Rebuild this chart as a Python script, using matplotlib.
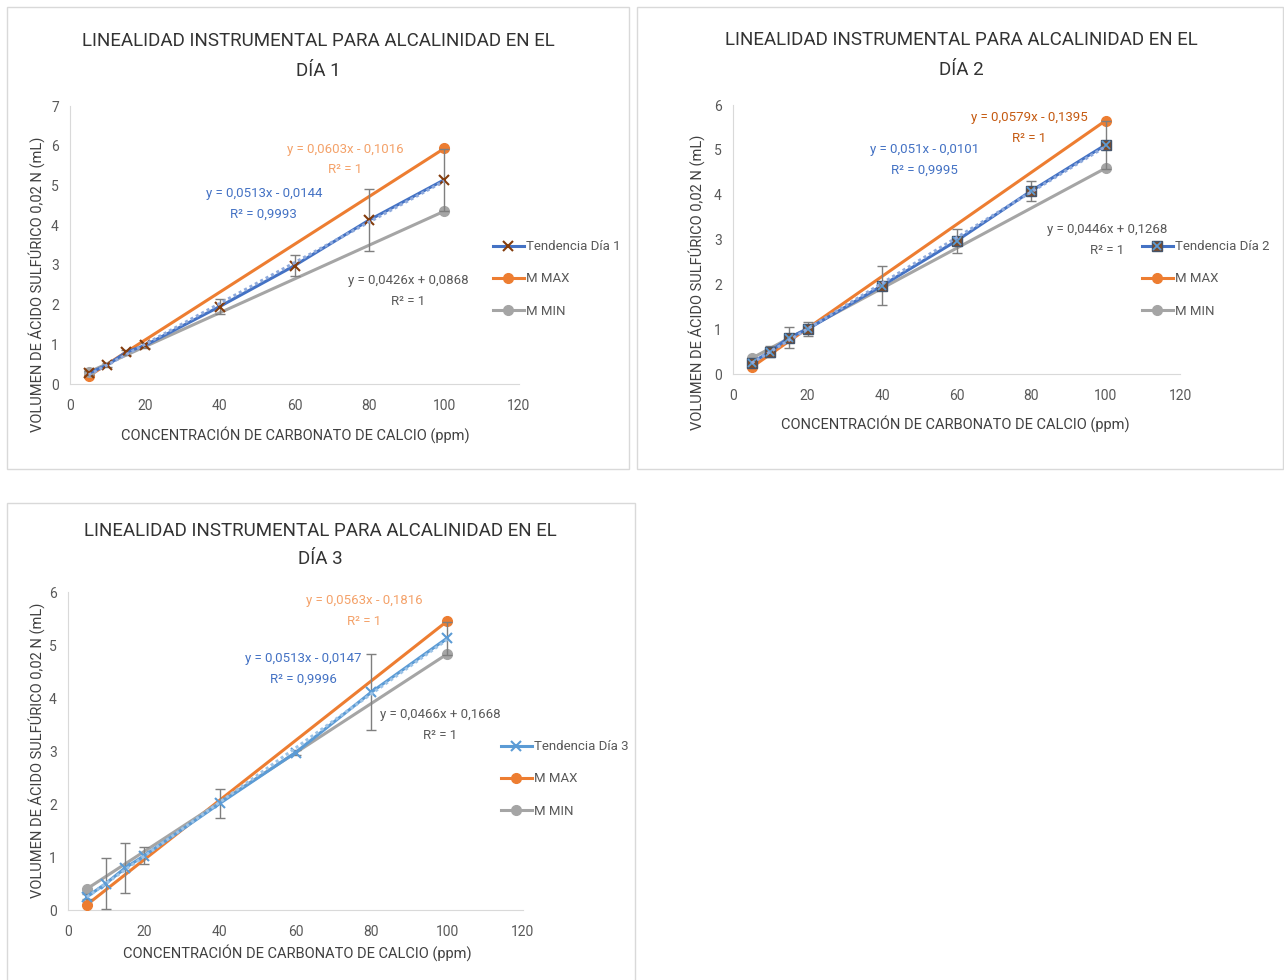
import matplotlib
matplotlib.use("Agg")
import matplotlib.pyplot as plt
import matplotlib.patches as mpatches
from matplotlib.lines import Line2D
import numpy as np

plt.rcParams['font.family'] = ['Roboto', 'DejaVu Sans']

# ── Data ───────
conc = [5, 10, 15, 20, 40, 60, 80, 100]
ends = [5, 100]

dia1_vol = [0.27, 0.48, 0.80, 0.97, 1.95, 2.98, 4.13, 5.14]
dia1_err = [0.05, 0.05, 0.06, 0.07, 0.19, 0.27, 0.78, 0.78]
dia1_max = [0.20, 5.93]
dia1_min = [0.30, 4.35]

dia2_vol = [0.25, 0.50, 0.81, 1.00, 1.97, 2.97, 4.08, 5.11]
dia2_err = [0.05, 0.13, 0.24, 0.16, 0.43, 0.26, 0.22, 0.54]
dia2_max = [0.15, 5.65]
dia2_min = [0.35, 4.59]

dia3_vol = [0.25, 0.50, 0.79, 1.02, 2.01, 2.97, 4.11, 5.13]
dia3_err = [0.05, 0.49, 0.47, 0.16, 0.27, 0.05, 0.72, 0.31]
dia3_max = [0.10, 5.45]
dia3_min = [0.40, 4.83]

eq_labels = {
    1: ["y = 0,0513x - 0,0144\nR² = 0,9993", "y = 0,0603x - 0,1016\nR² = 1", "y = 0,0426x + 0,0868\nR² = 1"],
    2: ["y = 0,051x - 0,0101\nR² = 0,9995", "y = 0,0579x - 0,1395\nR² = 1", "y = 0,0446x + 0,1268\nR² = 1"],
    3: ["y = 0,0513x - 0,0147\nR² = 0,9996", "y = 0,0563x - 0,1816\nR² = 1", "y = 0,0466x + 0,1668\nR² = 1"],
}

# ── Colors ──────
C_BLUE = "#4472C4"
C_LBLUE = "#5B9BD5"
C_ORANGE = "#ED7D31"
C_GRAY = "#A5A5A5"
C_BROWN = "#843C0C"
C_TXT = "#595959"
C_BORDER = "#D9D9D9"

W, H = 1284, 980
fig = plt.figure(figsize=(W / 100, H / 100), dpi=100, facecolor="white")


def fbox(l, t, r, b):
    return [l / W, 1 - b / H, (r - l) / W, (b - t) / H]


# panel borders
for (l, t, r, b) in [(7, 7, 629, 469), (637, 7, 1283, 469), (7, 503, 635, 985)]:
    fig.add_artist(mpatches.Rectangle((l / W, 1 - b / H), (r - l) / W, (b - t) / H,
                                      transform=fig.transFigure, fill=False,
                                      edgecolor=C_BORDER, linewidth=1))


def panel(day, box, vol, err, vmax, vmin, ymax, title_xy, title_ls, xl_xy, yl_xy,
          leg_xy, eq_pos, orange_txt):
    ax = fig.add_axes(fbox(*box))
    if day == 1:
        line_color, mk = C_BLUE, dict(marker="x", markersize=7.5, markeredgecolor=C_BROWN,
                                      markeredgewidth=1.5)
    elif day == 2:
        line_color, mk = C_BLUE, dict(marker="s", markersize=7, markerfacecolor="#7B4B2A",
                                      markeredgecolor="#44546A", markeredgewidth=1)
    else:
        line_color, mk = C_LBLUE, dict(marker="x", markersize=7, markeredgecolor=C_LBLUE,
                                       markeredgewidth=1.5)

    ax.plot(ends, vmax, color=C_ORANGE, linewidth=2.2, marker="o", markersize=7, zorder=3)
    ax.plot(ends, vmin, color=C_GRAY, linewidth=2.2, marker="o", markersize=7, zorder=3)
    ax.errorbar(conc, vol, yerr=err, fmt="none", ecolor="#7F7F7F", elinewidth=1,
                capsize=3.5, capthick=1, zorder=4)
    ln, = ax.plot(conc, vol, color=line_color, linewidth=2.2, zorder=5, **mk)
    handle = ln
    if day == 2:
        ov, = ax.plot(conc, vol, linestyle="none", marker="x", markersize=6,
                      markeredgecolor=C_LBLUE, markeredgewidth=1.3, zorder=6)
        handle = (ln, ov)
    # linear trendline
    k, c = np.polyfit(conc, vol, 1)
    xt = np.array([conc[0], conc[-1]])
    ax.plot(xt, k * xt + c, color="#9DC3E6" if day == 3 else "#8FAADC",
            linestyle=(0, (1, 1)), linewidth=2.2, zorder=6)

    ax.set_xlim(0, 120)
    ax.set_ylim(0, ymax)
    ax.set_xticks(range(0, 121, 20))
    ax.set_yticks(range(0, ymax + 1))
    ax.tick_params(length=0, labelsize=10, labelcolor=C_TXT, pad=11)
    ax.tick_params(axis="y", pad=8)
    ax.spines[["top", "right"]].set_visible(False)
    ax.spines[["left", "bottom"]].set_color(C_BORDER)

    labels = eq_labels[day]
    kw = dict(fontsize=9.5, ha="center", va="center", linespacing=1.75, zorder=7)
    ax.text(*eq_pos[0], labels[0], color=C_BLUE, **kw)
    ax.text(*eq_pos[1], labels[1], color=orange_txt, **kw)
    ax.text(*eq_pos[2], labels[2], color=C_TXT, **kw)

    fig.text(title_xy[0] / W, 1 - title_xy[1] / H,
             "LINEALIDAD INSTRUMENTAL PARA ALCALINIDAD EN EL\nDÍA %d" % day,
             ha="center", va="center", fontsize=13.5, color="#333333", linespacing=title_ls)
    fig.text(xl_xy[0] / W, 1 - xl_xy[1] / H, "CONCENTRACIÓN DE CARBONATO DE CALCIO (ppm)",
             ha="center", va="center", fontsize=10.5, color="#404040")
    fig.text(yl_xy[0] / W, 1 - yl_xy[1] / H, "VOLUMEN DE ÁCIDO SULFÚRICO 0,02 N (mL)",
             ha="center", va="center", rotation=90, fontsize=10.5, color="#404040")

    h_max = Line2D([], [], color=C_ORANGE, linewidth=2.2, marker="o", markersize=7)
    h_min = Line2D([], [], color=C_GRAY, linewidth=2.2, marker="o", markersize=7)
    fig.legend([handle, h_max, h_min], ["Tendencia Día %d" % day, "M MAX", "M MIN"],
               loc="center left", bbox_to_anchor=(leg_xy[0] / W, 1 - leg_xy[1] / H),
               frameon=False, fontsize=9.5, labelcolor=C_TXT, handlelength=2.4,
               handletextpad=0.1, labelspacing=1.45, borderpad=0)
    return ax


panel(1, (70, 106, 519, 384), dia1_vol, dia1_err, dia1_max, dia1_min, 7,
      (318, 56), 1.85, (295, 435), (37, 284), (486, 279),
      [(51.8, 4.53), (73.5, 5.65), (90.3, 2.34)], "#F4A26A")
panel(2, (733, 105, 1180, 374), dia2_vol, dia2_err, dia2_max, dia2_min, 6,
      (961, 55), 1.85, (955, 424), (697, 282), (1135, 279),
      [(51.3, 4.78), (79.5, 5.49), (100.4, 2.99)], "#C55A11")
panel(3, (68, 592, 523, 910), dia3_vol, dia3_err, dia3_max, dia3_min, 6,
      (320, 545), 1.65, (297, 953), (37, 750), (494, 779),
      [(62.0, 4.55), (78.1, 5.64), (98.1, 3.49)], "#F4A26A")

plt.savefig("out.png", dpi=100, facecolor="white")
